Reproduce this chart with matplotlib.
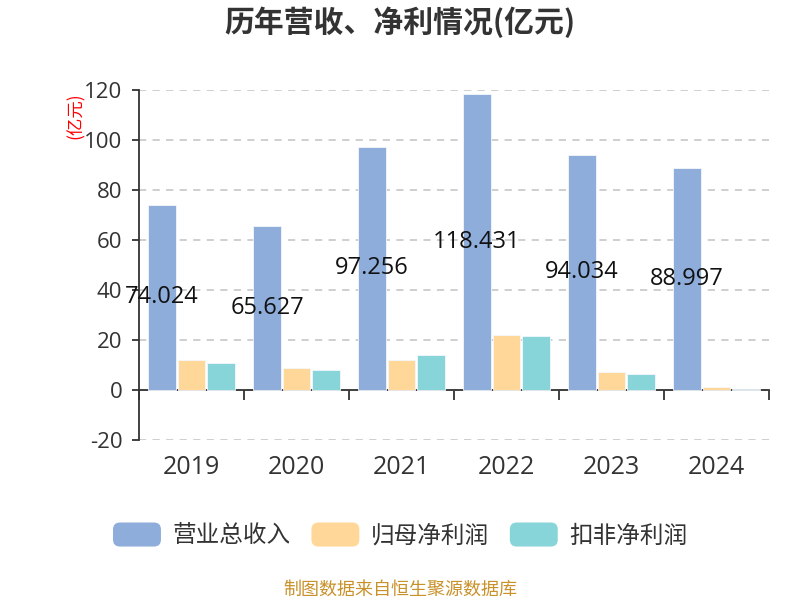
import numpy as np
import matplotlib
matplotlib.use('Agg')
import matplotlib.pyplot as plt
from matplotlib.patches import FancyBboxPatch, Patch
from matplotlib.legend_handler import HandlerPatch

plt.rcParams['font.family'] = ['Noto Sans CJK SC', 'DejaVu Sans']
plt.rcParams['axes.unicode_minus'] = False
NUM_FONT = ['Open Sans', 'Noto Sans CJK SC']

# Data
years = ['2019', '2020', '2021', '2022', '2023', '2024']
revenue = [74.024, 65.627, 97.256, 118.431, 94.034, 88.997]
net_profit = [12.0, 9.0, 12.0, 22.0, 7.4, 1.1]
deducted_profit = [10.9, 8.0, 14.0, 21.6, 6.4, 0.3]
series_names = ['营业总收入', '归母净利润', '扣非净利润']
colors = ['#8eaddb', '#ffd899', '#88d5d9']


class RoundHandler(HandlerPatch):
    def create_artists(self, legend, orig_handle, xdescent, ydescent,
                       width, height, fontsize, trans):
        p = FancyBboxPatch((-xdescent, -ydescent), width, height,
                           boxstyle='round,pad=0,rounding_size=5',
                           facecolor=orig_handle.get_facecolor(),
                           edgecolor='none', transform=trans)
        return [p]


fig = plt.figure(figsize=(8, 6), dpi=100)
ax = fig.add_axes([139 / 800, 1 - 440 / 600, 630 / 800, 350 / 600])

x = np.arange(len(years))
w = 0.26
off = 0.28
for i, (vals, c) in enumerate(zip([revenue, net_profit, deducted_profit], colors)):
    ax.bar(x + (i - 1) * off, vals, width=w, color=c, edgecolor='#f4f7fb',
           linewidth=0.6, zorder=3)

for xi, v in zip(x, revenue):
    ax.text(xi - off, v / 2, f'{v:.3f}', ha='center', va='center',
            fontsize=17, color='#111111', family=NUM_FONT, zorder=5)

ax.set_xlim(-0.5, len(years) - 0.5)
ax.set_ylim(-20, 120)
ax.set_yticks(np.arange(-20, 121, 20))
ax.yaxis.grid(True, color='#cccccc', linestyle=(0, (4, 3.5)), linewidth=1.3, zorder=0)
ax.tick_params(axis='y', length=5, width=1.3, color='#333333',
               labelsize=16, labelcolor='#333333', pad=7)
for lb in ax.get_yticklabels():
    lb.set_family(NUM_FONT)

for s in ['top', 'right']:
    ax.spines[s].set_visible(False)
ax.spines['left'].set_color('#333333')
ax.spines['left'].set_linewidth(1.3)
ax.spines['bottom'].set_position(('data', 0))
ax.spines['bottom'].set_color('#333333')
ax.spines['bottom'].set_linewidth(1.3)

ax.set_xticks(np.arange(len(years) + 1) - 0.5)
ax.set_xticklabels([])
ax.set_xticks(x, minor=True)
ax.set_xticklabels(years, minor=True, family=NUM_FONT)
ax.tick_params(axis='x', which='major', length=7, width=1.3, color='#333333')
ax.tick_params(axis='x', which='minor', length=0, pad=46.5,
               labelsize=18, labelcolor='#333333')

fig.text(76 / 800, 1 - 116 / 600, '(亿元)', rotation=90, color='red',
         fontsize=12.5, ha='center', va='center')

fig.text(0.5, 1 - 22 / 600, '历年营收、净利情况(亿元)', ha='center', va='center',
         fontsize=21.5, fontweight='bold', color='#333333')

handles = [Patch(facecolor=c, label=n) for c, n in zip(colors, series_names)]
fig.legend(handles=handles, loc='center', bbox_to_anchor=(0.5, 1 - 535 / 600),
           ncol=3, frameon=False, fontsize=17, handlelength=2.03,
           handleheight=1.19, handletextpad=0.47, columnspacing=0.9,
           handler_map={Patch: RoundHandler()}, labelcolor='#333333')

fig.text(0.5, 1 - 590 / 600, '制图数据来自恒生聚源数据库', ha='center', va='center',
         fontsize=13, color='#c8912a')

fig.savefig('out.png', dpi=100)
